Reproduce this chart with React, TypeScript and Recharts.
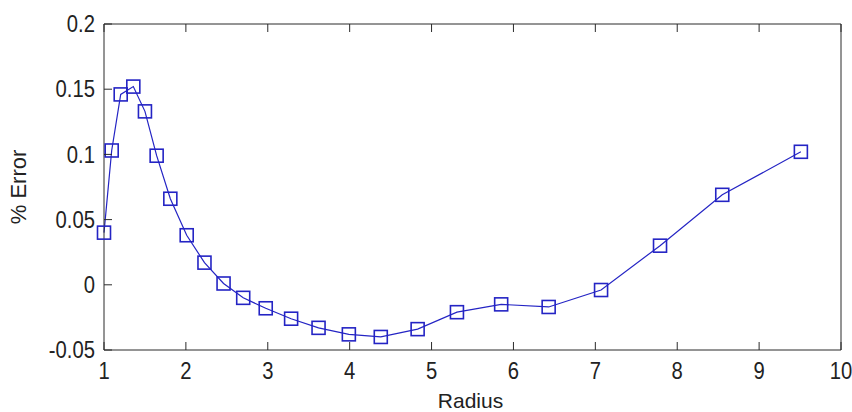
import React from "react";
import { Label, Line, LineChart, XAxis, YAxis } from "recharts";

// relative error measured at each sampled radius
const radius = [
  1.0, 1.094, 1.204, 1.358, 1.5, 1.643, 1.81, 2.01, 2.227, 2.46, 2.7, 2.975,
  3.285, 3.62, 3.99, 4.38, 4.83, 5.31, 5.85, 6.43, 7.07, 7.79, 8.55, 9.51,
];
const errorPct = [
  0.04, 0.103, 0.146, 0.152, 0.133, 0.099, 0.066, 0.038, 0.017, 0.001, -0.01,
  -0.018, -0.026, -0.033, -0.038, -0.04, -0.034, -0.021, -0.015, -0.017,
  -0.004, 0.03, 0.069, 0.102,
];
const xTicks = [1, 2, 3, 4, 5, 6, 7, 8, 9, 10];
const yTicks = [-0.05, 0, 0.05, 0.1, 0.15, 0.2];

const data = radius.map((r, i) => ({ radius: r, error: errorPct[i] }));

const INK = "#222";
const AXIS = "#2b2b2b";
const BLUE = "#2424c4";
const TICK = 8;
const FONT = "'Liberation Sans', Arial, sans-serif";

const tickText = (x: number, y: number, anchor: string, value: any) => (
  <text
    transform={`translate(${x},${y}) scale(0.88,1)`}
    textAnchor={anchor}
    dy="0.36em"
    fontSize={23}
    fontFamily={FONT}
    fill={INK}
  >
    {String(value)}
  </text>
);

const BottomTick = ({ x, y, payload }: any) => (
  <g>
    <line x1={x} x2={x} y1={y} y2={y - TICK} stroke={AXIS} />
    {tickText(x, y + 21, "middle", payload.value)}
  </g>
);

const TopTick = ({ x, y }: any) => (
  <line x1={x} x2={x} y1={y} y2={y + TICK} stroke={AXIS} />
);

const LeftTick = ({ x, y, payload }: any) => (
  <g>
    <line x1={x} x2={x + TICK} y1={y} y2={y} stroke={AXIS} />
    {tickText(x - 9, y, "end", payload.value)}
  </g>
);

const RightTick = ({ x, y }: any) => (
  <line x1={x} x2={x - TICK} y1={y} y2={y} stroke={AXIS} />
);

const SquareDot = ({ cx, cy, index }: any) => (
  <rect
    key={index}
    x={cx - 6.5}
    y={cy - 6.5}
    width={13}
    height={13}
    fill="none"
    stroke={BLUE}
    strokeWidth={1.6}
  />
);

export default function App() {
  return (
    <div style={{ position: "absolute", left: 0, top: 0, background: "#fff" }}>
      <LineChart
        width={852}
        height={412}
        data={data}
        margin={{ top: 0, right: 0, bottom: 0, left: 0 }}
      >
        <XAxis
          xAxisId="bottom"
          dataKey="radius"
          type="number"
          domain={[1, 10]}
          ticks={xTicks}
          orientation="bottom"
          height={62}
          tickSize={0}
          tickMargin={0}
          tickLine={false}
          axisLine={{ stroke: AXIS }}
          tick={<BottomTick />}
          interval={0}
        >
          <Label
            content={({ viewBox }: any) => (
              <text
                x={viewBox.x + viewBox.width / 2 - 2}
                y={408}
                textAnchor="middle"
                fontSize={21}
                fontFamily={FONT}
                fill={INK}
              >
                Radius
              </text>
            )}
          />
        </XAxis>
        <XAxis
          xAxisId="top"
          dataKey="radius"
          type="number"
          domain={[1, 10]}
          ticks={xTicks}
          orientation="top"
          height={24}
          tickSize={0}
          tickMargin={0}
          tickLine={false}
          axisLine={{ stroke: AXIS }}
          tick={<TopTick />}
          interval={0}
        />
        <YAxis
          yAxisId="left"
          type="number"
          domain={[-0.05, 0.2]}
          ticks={yTicks}
          width={104}
          tickSize={0}
          tickMargin={0}
          tickLine={false}
          axisLine={{ stroke: AXIS }}
          tick={<LeftTick />}
          interval={0}
        >
          <Label
            content={({ viewBox }: any) => {
              const cy = viewBox.y + viewBox.height / 2;
              return (
                <text
                  x={18}
                  y={cy}
                  transform={`rotate(-90, 18, ${cy})`}
                  textAnchor="middle"
                  dy="0.36em"
                  fontSize={22}
                  fontFamily={FONT}
                  fill={INK}
                >
                  % Error
                </text>
              );
            }}
          />
        </YAxis>
        <YAxis
          yAxisId="right"
          type="number"
          orientation="right"
          domain={[-0.05, 0.2]}
          ticks={yTicks}
          width={11}
          tickSize={0}
          tickMargin={0}
          tickLine={false}
          axisLine={{ stroke: AXIS }}
          tick={<RightTick />}
          interval={0}
        />
        <Line
          xAxisId="bottom"
          yAxisId="left"
          dataKey="error"
          stroke={BLUE}
          strokeWidth={1.2}
          dot={<SquareDot />}
          activeDot={false}
          isAnimationActive={false}
        />
      </LineChart>
    </div>
  );
}
